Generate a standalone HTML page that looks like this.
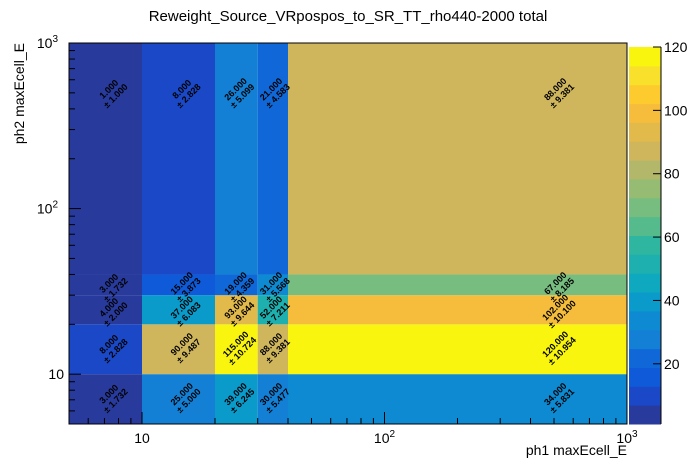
<!DOCTYPE html>
<html><head><meta charset="utf-8"><style>
body{margin:0;background:#fff}
svg{display:block;font-family:"Liberation Sans",sans-serif}
</style></head><body>
<svg id="c" width="696" height="472"></svg>
<script>
const xEdges=[5,10,20,30,40,1000];
const yEdges=[5,10,20,30,40,1000];
// rows bottom to top
const counts=[
 [3,25,39,30,34],
 [8,90,115,88,120],
 [4,37,93,52,102],
 [3,15,19,31,67],
 [1,8,26,21,88]
];
const zTicks=[20,40,60,80,100,120];
const palette=["#283a9c","#1a48c6","#0f5ad8","#1068d8","#1380d6","#0d8ad2","#0a9bcb","#0ea8bf","#1eafaf","#2fb6a0","#55bb8c","#78bd80","#96bc74","#b2b76a","#cfb65d","#e2b94b","#f5bd3b","#fdcb2e","#f9e02a","#f9f50f"];
const zMin=1,zMax=120;
const NS="http://www.w3.org/2000/svg";
const svg=document.getElementById('c');
const L=69,R=627,T=43,B=424;
const lx0=Math.log10(5),lx1=Math.log10(1000);
const X=v=>L+(Math.log10(v)-lx0)/(lx1-lx0)*(R-L);
const Y=v=>B-(Math.log10(v)-lx0)/(lx1-lx0)*(B-T);
function el(t,a,p){const e=document.createElementNS(NS,t);for(const k in a)e.setAttribute(k,a[k]);(p||svg).appendChild(e);return e;}
function col(v){let i=Math.floor((v-zMin)/(zMax-zMin)*palette.length);i=Math.max(0,Math.min(palette.length-1,i));return palette[i];}
const title=el('text',{x:348,y:21,'text-anchor':'middle','font-size':15});
title.textContent='Reweight_Source_VRpospos_to_SR_TT_rho440-2000 total';


for(let r=0;r<counts.length;r++)for(let c=0;c<counts[r].length;c++){
 const v=counts[r][c];
 const x0=X(xEdges[c]),x1=X(xEdges[c+1]),y0=Y(yEdges[r+1]),y1=Y(yEdges[r]);
 const rc=el('rect',{x:x0,y:y0,width:x1-x0,height:y1-y0,fill:col(v)});
 
 
}
for(let r=0;r<counts.length;r++)for(let c=0;c<counts[r].length;c++){
 const v=counts[r][c];
 const cx=X((xEdges[c]+xEdges[c+1])/2),cy=Y((yEdges[r]+yEdges[r+1])/2)+2;
 const g=el('g',{transform:`translate(${cx},${cy}) rotate(-45)`,'font-size':9,'font-weight':'bold','text-anchor':'middle'});
 
 
 const t1=el('text',{x:0,y:-1},g);t1.textContent=v.toFixed(3);
 const t2=el('text',{x:0,y:8.5},g);t2.textContent='± '+Math.sqrt(v).toFixed(3);
}
el('rect',{x:L,y:T,width:R-L,height:B-T,fill:'none',stroke:'#000','stroke-width':1});
const tg=el('g',{stroke:'#000','stroke-width':1});
for(let d=1;d<=1000;d*=10)for(let m=1;m<10;m++){
 const v=d*m; if(v<5||v>1000)continue;
 const len=m===1?12:6;
 const x=X(v),y=Y(v);
 el('line',{x1:x,y1:B,x2:x,y2:B-len},tg);
 el('line',{x1:L,y1:y,x2:L+len,y2:y},tg);
}
const xl=[[10,'10',''],[100,'10','2'],[1000,'10','3']];
xl.forEach(([v,b,e])=>{
 const t=el('text',{x:X(v),y:443,'text-anchor':'middle','font-size':14});
 
 
 t.innerHTML=b+(e?`<tspan dy="-6" font-size="10">${e}</tspan>`:'');
 const t2=el('text',{x:e?58:64,y:Y(v)+5,'text-anchor':'end','font-size':14});
 
 
 t2.innerHTML=e?`${b}<tspan dy="-6" font-size="10">${e}</tspan>`:b;
});
const xt=el('text',{x:627,y:455,'text-anchor':'end','font-size':14});
xt.textContent='ph1 maxEcell_E';


const yt=el('text',{transform:'translate(24,43) rotate(-90)','text-anchor':'end','font-size':14});
yt.textContent='ph2 maxEcell_E';


const CL=629,CR=661,CT=47,CB=424;
const Z=v=>CB-(v-zMin)/(zMax-zMin)*(CB-CT);
const cb=el('g',{});


const n=palette.length;
for(let i=0;i<n;i++){
 const a=zMin+(zMax-zMin)*i/n,b=zMin+(zMax-zMin)*(i+1)/n;
 el('rect',{x:CL,y:Z(b),width:CR-CL,height:Z(a)-Z(b)+0.5,fill:palette[i]},cb);
}
el('line',{x1:CR,y1:CT,x2:CR,y2:CB,stroke:'#000'},cb);
zTicks.forEach(v=>{
 el('line',{x1:CR-8,y1:Z(v),x2:CR,y2:Z(v),stroke:'#000'},cb);
 const t=el('text',{x:CR+3,y:Z(v)+5,'font-size':14},cb);
 t.textContent=v;
 
 
});
</script>
</body></html>
